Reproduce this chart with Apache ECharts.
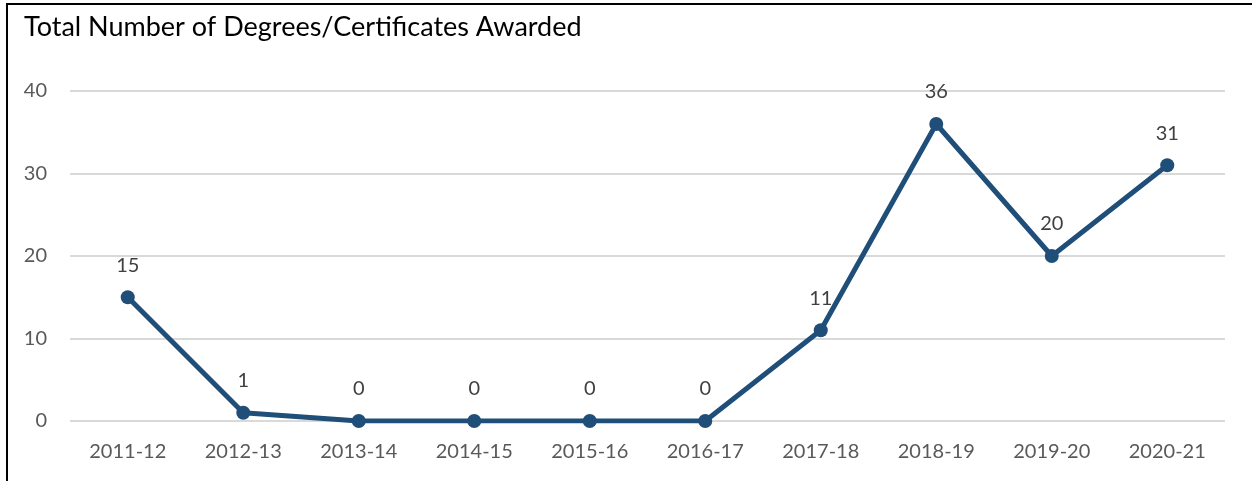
<!DOCTYPE html>
<html><head><meta charset="utf-8">
<script src="https://cdn.jsdelivr.net/npm/echarts@6/dist/echarts.min.js"></script>
<style>
html,body{margin:0;padding:0;background:#fff;overflow:hidden}
#frame{position:absolute;left:6px;top:3px;width:1300px;height:600px;border-left:2px solid #000;border-top:2px solid #000;box-sizing:border-box;pointer-events:none;z-index:5}
#c{position:absolute;left:0;top:0;width:1252px;height:481px}
</style></head>
<body>
<div id="c"></div><div id="frame"></div>
<script>
const title = "Total Number of Degrees/Certificates Awarded";
const categories = ["2011-12","2012-13","2013-14","2014-15","2015-16","2016-17","2017-18","2018-19","2019-20","2020-21"];
const values = [15,1,0,0,0,0,11,36,20,31];
const yTicks = {min:0,max:40,interval:10};

const chart = echarts.init(document.getElementById('c'), null, {renderer:'canvas'});
const font = "Lato, 'Open Sans', sans-serif";
chart.setOption({
  animation:false,
  title:{text:title,left:19,top:9,textStyle:{fontFamily:font,fontSize:27,fontWeight:'normal',color:'#000'}},
  grid:{left:70,right:27,top:91,bottom:60,containLabel:false},
  xAxis:{type:'category',data:categories,boundaryGap:true,
    axisLine:{show:false},axisTick:{show:false},
    axisLabel:{color:'#595959',fontSize:20,fontFamily:font,margin:21}},
  yAxis:{type:'value',min:yTicks.min,max:yTicks.max,interval:yTicks.interval,
    axisLine:{show:false},axisTick:{show:false},
    splitLine:{lineStyle:{color:'#d9d9d9',width:2}},
    axisLabel:{color:'#595959',fontSize:20,fontFamily:font,margin:23}},
  series:[{type:'line',data:values,symbol:'circle',symbolSize:14,
    lineStyle:{color:'#1f4e79',width:5},itemStyle:{color:'#1f4e79'},
    label:{show:true,position:'top',distance:15,color:'#404040',fontSize:20,fontFamily:font}}]
});
</script>
</body></html>
